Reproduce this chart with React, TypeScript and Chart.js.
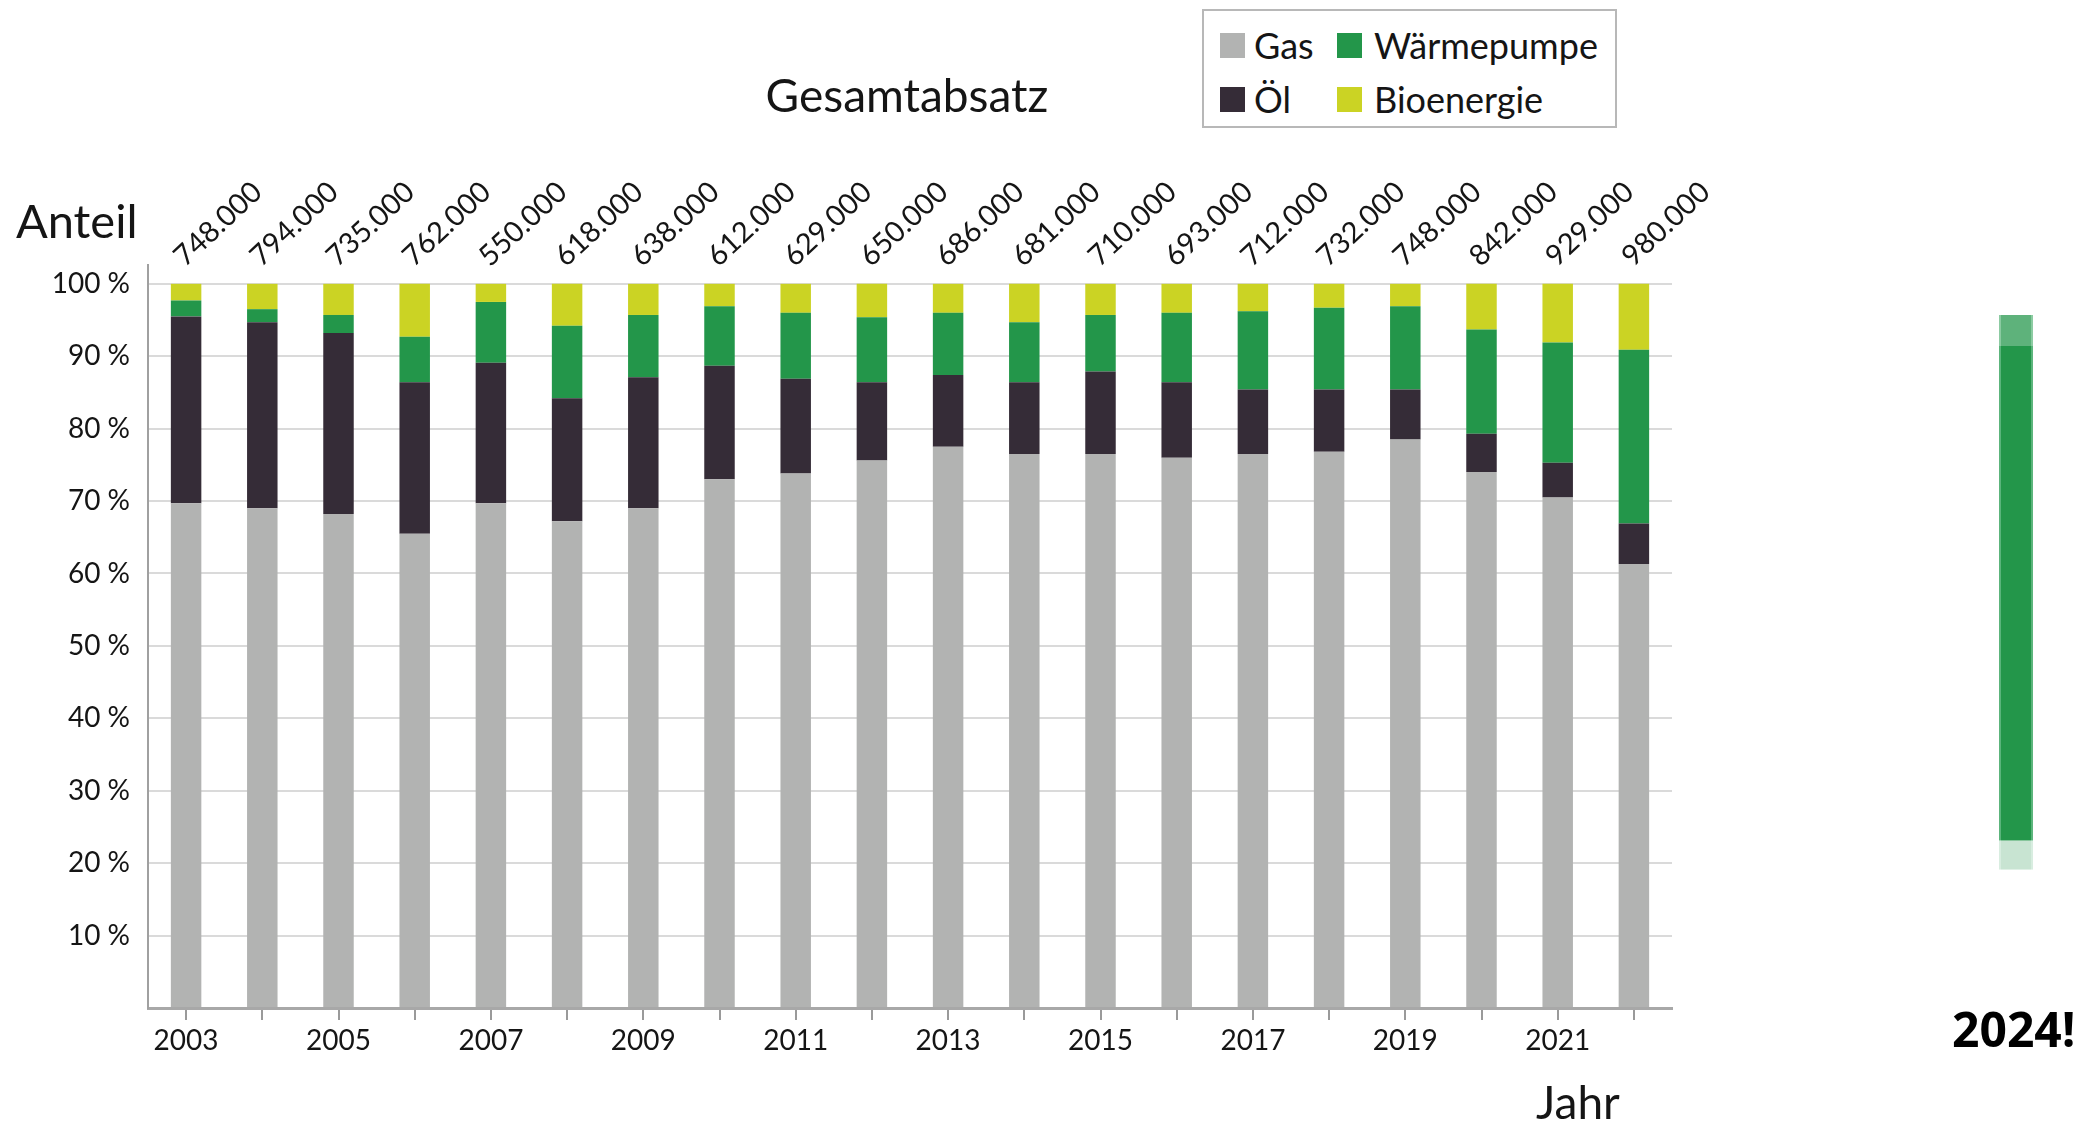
import React, { useEffect, useRef } from 'react';
import { Chart, registerables } from 'chart.js';

Chart.register(...registerables);

// ---------- data ----------
const years = ['2003', '2004', '2005', '2006', '2007', '2008', '2009', '2010', '2011', '2012', '2013', '2014', '2015', '2016', '2017', '2018', '2019', '2020', '2021', '2022'];
const totals = ['748.000', '794.000', '735.000', '762.000', '550.000', '618.000', '638.000', '612.000', '629.000', '650.000', '686.000', '681.000', '710.000', '693.000', '712.000', '732.000', '748.000', '842.000', '929.000', '980.000'];
const gas = [69.7, 69.0, 68.2, 65.5, 69.7, 67.2, 69.0, 73.0, 73.8, 75.6, 77.5, 76.5, 76.5, 76.0, 76.5, 76.8, 78.5, 74.0, 70.5, 61.3];
const oel = [25.8, 25.7, 25.0, 20.9, 19.4, 17.0, 18.1, 15.7, 13.1, 10.8, 9.9, 9.9, 11.4, 10.4, 8.9, 8.6, 6.9, 5.3, 4.8, 5.6];
const waermepumpe = [2.2, 1.8, 2.5, 6.3, 8.4, 10.0, 8.6, 8.2, 9.1, 9.0, 8.6, 8.3, 7.8, 9.6, 10.8, 11.3, 11.5, 14.4, 16.6, 24.0];
const bioenergie = [2.3, 3.5, 4.3, 7.3, 2.5, 5.8, 4.3, 3.1, 4.0, 4.6, 4.0, 5.3, 4.3, 4.0, 3.8, 3.3, 3.1, 6.3, 8.1, 9.1];
const yTickValues = [0, 10, 20, 30, 40, 50, 60, 70, 80, 90, 100];
const yMax = 102.6;

// 2024 bar on the right (floating segments, same percentage scale)
const label2024 = ['2024'];
const seg2024Low = [[19.1, 23.1]];
const seg2024Main = [[23.1, 91.4]];
const seg2024Top = [[91.4, 95.7]];

// ---------- styles ----------
const C_GAS = '#b2b3b2';
const C_OEL = '#352c37';
const C_WP = '#23964a';
const C_BIO = '#cbd324';
const FONT = 'Lato, "Open Sans", sans-serif';

const totalLabelsPlugin = {
  id: 'totalLabels',
  afterDatasetsDraw(chart: any) {
    const { ctx, scales } = chart;
    const x = scales.x;
    const y = scales.y;
    ctx.save();
    ctx.font = `29px ${FONT}`;
    ctx.fillStyle = '#151515';
    ctx.textAlign = 'left';
    ctx.textBaseline = 'alphabetic';
    totals.forEach((t, i) => {
      const px = x.getPixelForValue(i) - 1;
      const py = y.getPixelForValue(100) - 16;
      ctx.save();
      ctx.translate(px, py);
      ctx.rotate(-43 * Math.PI / 180);
      ctx.fillText(t, 0, 0);
      ctx.restore();
    });
    ctx.restore();
  },
};

function MainChart() {
  const ref = useRef<HTMLCanvasElement>(null);
  useEffect(() => {
    if (!ref.current) return;
    const chart = new Chart(ref.current, {
      type: 'bar',
      data: {
        labels: years,
        datasets: [
          { label: 'Gas', data: gas, backgroundColor: C_GAS },
          { label: 'Öl', data: oel, backgroundColor: C_OEL },
          { label: 'Wärmepumpe', data: waermepumpe, backgroundColor: C_WP },
          { label: 'Bioenergie', data: bioenergie, backgroundColor: C_BIO },
        ],
      },
      options: {
        responsive: false,
        animation: false,
        events: [],
        layout: { padding: { top: 265, right: 404, bottom: 0, left: 0 } },
        datasets: { bar: { barPercentage: 0.4, categoryPercentage: 1, borderWidth: 0 } },
        plugins: { legend: { display: false }, title: { display: false }, tooltip: { enabled: false } },
        scales: {
          x: {
            stacked: true,
            afterFit: (s: any) => { s.height = 127; },
            grid: { display: true, drawOnChartArea: false, drawTicks: true, tickLength: 12, color: '#9a9a9a', lineWidth: 2, offset: false },
            border: { display: true, color: '#a8a8a8', width: 3 },
            ticks: {
              autoSkip: false, maxRotation: 0, minRotation: 0, padding: 4,
              color: '#151515', font: { family: FONT, size: 28 },
              callback: (_v: any, i: number) => (i % 2 === 0 ? years[i] : ''),
            },
          },
          y: {
            stacked: true,
            min: 0,
            max: yMax,
            afterFit: (s: any) => { s.width = 148; },
            afterBuildTicks: (s: any) => { s.ticks = yTickValues.map((v) => ({ value: v })); },
            grid: {
              drawTicks: false, lineWidth: 2,
              color: (c: any) => (c.tick && c.tick.value === 0 ? 'rgba(0,0,0,0)' : '#dadada'),
            },
            border: { display: true, color: '#a0a0a0', width: 2 },
            ticks: {
              padding: 18, color: '#151515', font: { family: FONT, size: 28 },
              callback: (v: any) => (v === 0 ? '' : `${v} %`),
            },
          },
        },
      },
      plugins: [totalLabelsPlugin],
    });
    return () => chart.destroy();
  }, []);
  return <canvas ref={ref} width={2076} height={1135} style={{ position: 'absolute', left: 0, top: 0, width: 2076, height: 1135 }} />;
}

function Chart2024() {
  const ref = useRef<HTMLCanvasElement>(null);
  useEffect(() => {
    if (!ref.current) return;
    const chart = new Chart(ref.current, {
      type: 'bar',
      data: {
        labels: label2024,
        datasets: [
          { label: 'a', data: seg2024Low as any, backgroundColor: '#c8e4d2', borderColor: '#d8ede0', borderWidth: { left: 2, right: 2, top: 0, bottom: 0 } as any, borderSkipped: false },
          { label: 'b', data: seg2024Main as any, backgroundColor: C_WP, borderColor: '#5cb57c', borderWidth: { left: 2, right: 2, top: 0, bottom: 0 } as any, borderSkipped: false },
          { label: 'c', data: seg2024Top as any, backgroundColor: '#5eb27b', borderColor: '#8ccba2', borderWidth: { left: 2, right: 2, top: 0, bottom: 0 } as any, borderSkipped: false },
        ],
      },
      options: {
        responsive: false,
        animation: false,
        events: [],
        layout: { padding: { top: 265, right: 30, bottom: 127, left: 1986 } },
        datasets: { bar: { grouped: false, barPercentage: 0.567, categoryPercentage: 1 } },
        plugins: { legend: { display: false }, tooltip: { enabled: false } },
        scales: {
          x: { display: false },
          y: { display: false, min: 0, max: yMax },
        },
      },
    });
    return () => chart.destroy();
  }, []);
  return <canvas ref={ref} width={2076} height={1135} style={{ position: 'absolute', left: 0, top: 0, width: 2076, height: 1135 }} />;
}

const textBase: React.CSSProperties = {
  position: 'absolute', fontFamily: FONT, lineHeight: 1, color: '#151515', whiteSpace: 'nowrap', margin: 0,
};

function Swatch({ left, top, color }: { left: number; top: number; color: string }) {
  return <div style={{ position: 'absolute', left, top, width: 25, height: 25, background: color }} />;
}

export default function App() {
  return (
    <div style={{ position: 'absolute', left: 0, top: 0, width: 2076, height: 1135, background: '#fff', overflow: 'hidden' }}>
      <MainChart />
      <Chart2024 />
      <div style={{ ...textBase, fontSize: 46, left: 707, width: 400, textAlign: 'center', top: 72 }}>Gesamtabsatz</div>
      <div style={{ ...textBase, fontSize: 47, left: 16, top: 197 }}>Anteil</div>
      <div style={{ ...textBase, fontSize: 46, left: 1536, top: 1079 }}>Jahr</div>
      <div style={{ ...textBase, fontFamily: '"Open Sans", sans-serif', fontWeight: 700, fontSize: 48, left: 1952, top: 1005, color: '#000' }}>2024!</div>
      <div style={{ position: 'absolute', left: 1202, top: 9, width: 415, height: 119, border: '2px solid #b8b8b8', boxSizing: 'border-box', background: '#fff' }}>
        <Swatch left={16} top={22} color={C_GAS} />
        <div style={{ ...textBase, fontSize: 36, left: 50, top: 16 }}>Gas</div>
        <Swatch left={133} top={22} color={C_WP} />
        <div style={{ ...textBase, fontSize: 36, left: 170, top: 16 }}>Wärmepumpe</div>
        <Swatch left={16} top={76} color={C_OEL} />
        <div style={{ ...textBase, fontSize: 36, left: 50, top: 70 }}>Öl</div>
        <Swatch left={133} top={76} color={C_BIO} />
        <div style={{ ...textBase, fontSize: 36, left: 170, top: 70 }}>Bioenergie</div>
      </div>
    </div>
  );
}
